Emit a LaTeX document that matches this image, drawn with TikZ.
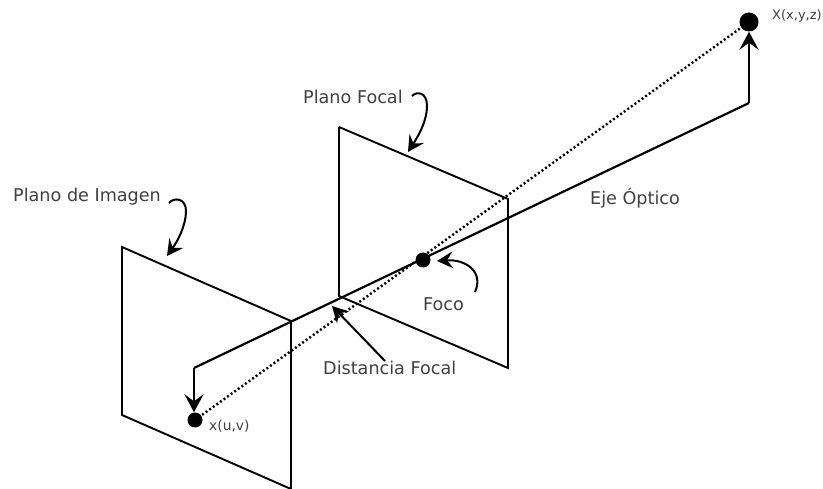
\documentclass[tikz,border=0pt]{standalone}
\usepackage{fontspec}
\setmainfont{DejaVu Sans}
\usetikzlibrary{arrows, arrows.meta, positioning, calc}

\begin{document}
\begin{tikzpicture}[
            x=1pt, y=-1pt,
            plane/.style={draw=black, line width=1.9pt, line join=miter},
            axis/.style={draw=black, line width=2.2pt},
            ray/.style={draw=black, line width=2.4pt, dash pattern=on 2pt off 2.4pt},
            arr/.style={-{Stealth[length=18pt, width=19pt, inset=7pt]}, line width=2.4pt},
            pointer/.style={-{Stealth[length=16pt, width=17pt, inset=6pt]}, line width=2pt},
            dot/.style={circle, fill=black, inner sep=0pt, minimum size=#1},
            lbl/.style={text=black!75, inner sep=0pt, font=\fontsize{17.6}{20}\selectfont},
            smalllbl/.style={text=black!75, inner sep=0pt, font=\fontsize{13.8}{16}\selectfont},
            tinylbl/.style={text=black!75, inner sep=0pt, font=\fontsize{13}{15}\selectfont}
        ]
            \useasboundingbox (0, 0) rectangle (823, 489);

            % Image plane
            \coordinate (imgA) at (122, 247);
            \coordinate (imgB) at (291, 321);
            \coordinate (imgC) at (291, 489);
            \coordinate (imgD) at (122, 415);
            \draw[plane] (imgC) -- (imgB) -- (imgA) -- (imgD) -- (imgC);

            % Focal plane
            \coordinate (focA) at (339, 127);
            \coordinate (focB) at (508, 199);
            \coordinate (focC) at (508, 368);
            \coordinate (focD) at (339, 296);
            \draw[plane] (focA) -- (focB) -- (focC) -- (focD) -- (focA);

            % Points
            \node[dot=15pt] (foco) at (423, 260) {};
            \node[dot=15pt] (imgpt) at (195, 420) {};
            \node[dot=19pt] (worldpt) at (749, 22) {};

            % Optical axis and ray
            \coordinate (axisL) at (194, 368);
            \coordinate (axisR) at (749, 103);
            \draw[ray] (imgpt.center) -- (worldpt.center);
            \draw[axis] (axisL) -- (axisR);
            \draw[arr] (axisL) -- (imgpt.north -| axisL);
            \draw[arr] (axisR) -- (worldpt.south);

            % Labels
            \node[lbl, anchor=west] (planofocal) at (303, 97) {Plano Focal};
            \node[lbl, anchor=west] (planoimg) at (13, 197) {Plano de Imagen};
            \node[lbl, anchor=west] (eje) at (590, 198) {Eje Óptico};
            \node[lbl, anchor=west] (focolbl) at (423, 304) {Foco};
            \node[lbl, anchor=west] (distancia) at (323, 368) {Distancia Focal};
            \node[smalllbl, anchor=west] (uv) at (209, 426) {x(u,v)};
            \node[tinylbl, anchor=west] (xyz) at (772, 16) {X(x,y,z)};

            % Curved pointers
            \coordinate (pfStart) at (412, 96);
            \coordinate (pfTip) at (408, 152);
            \coordinate (piStart) at (169, 203);
            \coordinate (piTip) at (167, 256);
            \coordinate (fcStart) at (475, 292);
            \coordinate (fcTip) at (437, 261);
            \coordinate (dfStart) at (385, 361);
            \coordinate (dfTip) at (332, 306);
            \draw[pointer] (pfStart) .. controls (417, 91) and (427, 92) .. (427, 106) .. controls (427, 122) and (417, 138) .. (pfTip);
            \draw[pointer] (piStart) .. controls (174, 197) and (186, 198) .. (186, 211) .. controls (186, 226) and (177, 242) .. (piTip);
            \draw[pointer] (fcStart) .. controls (484, 272) and (466, 259) .. (fcTip);
            \draw[pointer] (dfStart) -- (dfTip);
        \end{tikzpicture}
\end{document}
